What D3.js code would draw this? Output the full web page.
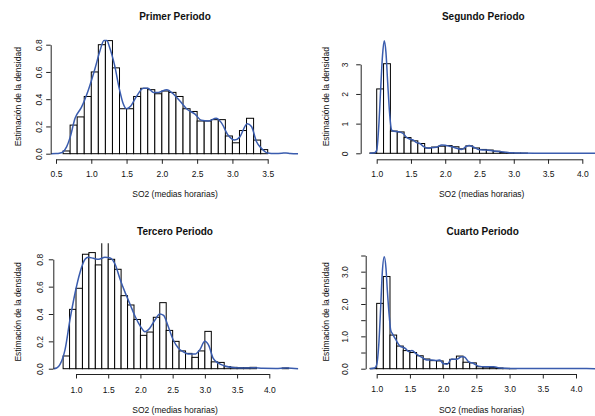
<!DOCTYPE html>
<html>
<head>
<meta charset="utf-8">
<script src="https://cdn.jsdelivr.net/npm/d3@7"></script>
<style>
  body { margin: 0; background: #fff; }
  text { font-family: "Liberation Sans", Arial, Helvetica, sans-serif; fill: #111; }
</style>
</head>
<body>
<svg id="chart" width="595" height="416"></svg>
<script>
// ---- data -------------------------------------------------------------
const binWidth = 0.1;
const titles = ["Primer Periodo", "Segundo Periodo", "Tercero Periodo", "Cuarto Periodo"];
const xLabel = "SO2 (medias horarias)";
const yLabel = "Estimación de la densidad";

// Primer periodo: histogram (density scale) and kernel density estimate
const p1BinStart = 0.6;
const p1Heights = [0.02, 0.21, 0.27, 0.42, 0.60, 0.80, 0.83, 0.63, 0.33, 0.33,
                   0.42, 0.48, 0.47, 0.44, 0.46, 0.45, 0.42, 0.33, 0.31, 0.24,
                   0.24, 0.25, 0.25, 0.13, 0.08, 0.17, 0.26, 0.10, 0.03];
const p1DensX = [0.43, 0.50, 0.55, 0.59, 0.65, 0.70, 0.77, 0.86, 0.96, 1.05, 1.12, 1.18, 1.22, 1.26,
                 1.33, 1.40, 1.45, 1.50, 1.56, 1.64, 1.74, 1.80, 1.88, 1.95, 2.07, 2.16, 2.25, 2.35,
                 2.47, 2.56, 2.66, 2.77, 2.84, 2.94, 3.03, 3.10, 3.21, 3.27, 3.34, 3.41, 3.50, 3.60,
                 3.70, 3.76, 3.82, 3.93];
const p1DensY = [0.000, 0.001, 0.004, 0.010, 0.050, 0.120, 0.260, 0.340, 0.470, 0.620, 0.750, 0.830, 0.830, 0.780,
                 0.650, 0.470, 0.370, 0.330, 0.350, 0.420, 0.480, 0.480, 0.450, 0.450, 0.470, 0.440, 0.390, 0.330,
                 0.290, 0.245, 0.240, 0.260, 0.230, 0.135, 0.100, 0.120, 0.220, 0.200, 0.090, 0.040, 0.005, 0.001,
                 0.003, 0.006, 0.002, 0.000];
const p1XTicks = [0.5, 1.0, 1.5, 2.0, 2.5, 3.0, 3.5];
const p1YTicks = [0, 0.2, 0.4, 0.6, 0.8];

// Segundo periodo
const p2BinStart = 0.9;
const p2Heights = [0.01, 2.17, 3.02, 0.75, 0.72, 0.53, 0.42, 0.33, 0.18, 0.21,
                   0.24, 0.26, 0.22, 0.15, 0.25, 0.18, 0.13, 0.11, 0.07, 0.03,
                   0.01, 0.005, 0.005, 0, 0, 0, 0, 0, 0, 0, 0, 0, 0, 0];
const p2DensX = [0.90, 0.97, 1.00, 1.03, 1.058, 1.085, 1.11, 1.135, 1.16, 1.19, 1.215, 1.24, 1.31, 1.36,
                 1.39, 1.43, 1.48, 1.53, 1.58, 1.63, 1.68, 1.75, 1.80, 1.87, 1.95, 2.00, 2.04, 2.10,
                 2.14, 2.24, 2.30, 2.35, 2.41, 2.50, 2.60, 2.70, 2.78, 2.85, 2.95, 3.05, 3.30, 3.60,
                 4.00, 4.30];
const p2DensY = [0.00, 0.02, 0.10, 0.90, 2.17, 3.30, 3.79, 3.40, 2.40, 1.30, 0.80, 0.75, 0.73, 0.70,
                 0.66, 0.55, 0.48, 0.45, 0.36, 0.33, 0.23, 0.17, 0.19, 0.20, 0.28, 0.27, 0.25, 0.22,
                 0.19, 0.13, 0.22, 0.26, 0.21, 0.12, 0.11, 0.08, 0.06, 0.04, 0.015, 0.01, 0.005, 0.003,
                 0.004, 0.002];
const p2XTicks = [1.0, 1.5, 2.0, 2.5, 3.0, 3.5, 4.0];
const p2YTicks = [0, 1, 2, 3];

// Tercero periodo
const p3BinStart = 0.8;
const p3Heights = [0.093, 0.434, 0.588, 0.837, 0.849, 0.759, 0.930, 0.800, 0.727, 0.534,
                   0.466, 0.360, 0.244, 0.268, 0.376, 0.483, 0.280, 0.200, 0.130, 0.112,
                   0.083, 0.130, 0.273, 0.050, 0.046, 0.015, 0.010, 0.007, 0.007, 0.010,
                   0, 0, 0, 0, 0.005];
const p3DensX = [0.65, 0.70, 0.75, 0.83, 0.907, 0.984, 1.06, 1.14, 1.19, 1.27, 1.35, 1.45, 1.53, 1.61,
                 1.68, 1.76, 1.84, 1.92, 2.00, 2.07, 2.15, 2.23, 2.30, 2.36, 2.43, 2.51, 2.59, 2.66,
                 2.74, 2.85, 2.92, 3.00, 3.06, 3.13, 3.21, 3.31, 3.47, 3.60, 3.75, 3.90, 4.10, 4.27,
                 4.45];
const p3DensY = [0.000, 0.005, 0.030, 0.140, 0.360, 0.550, 0.700, 0.800, 0.815, 0.807, 0.800, 0.815, 0.810, 0.760,
                 0.660, 0.560, 0.470, 0.380, 0.310, 0.270, 0.300, 0.360, 0.400, 0.390, 0.310, 0.210, 0.150, 0.125,
                 0.107, 0.107, 0.137, 0.200, 0.170, 0.075, 0.040, 0.020, 0.007, 0.005, 0.007, 0.003, 0.002, 0.006,
                 0.000];
const p3XTicks = [1.0, 1.5, 2.0, 2.5, 3.0, 3.5, 4.0];
const p3YTicks = [0, 0.2, 0.4, 0.6, 0.8];

// Cuarto periodo
const p4BinStart = 0.9;
const p4Heights = [0.01, 2.02, 2.85, 1.04, 0.70, 0.56, 0.50, 0.40, 0.30, 0.25,
                   0.24, 0.16, 0.29, 0.39, 0.20, 0.18, 0.06, 0.05, 0.04, 0.02,
                   0.01, 0.005, 0, 0, 0, 0, 0, 0, 0, 0, 0, 0, 0, 0];
const p4DensX = [0.90, 0.97, 1.00, 1.03, 1.06, 1.085, 1.114, 1.14, 1.16, 1.19, 1.21, 1.24, 1.29, 1.35,
                 1.43, 1.48, 1.53, 1.60, 1.68, 1.75, 1.83, 1.90, 1.95, 2.00, 2.06, 2.13, 2.20, 2.28,
                 2.32, 2.38, 2.46, 2.53, 2.63, 2.76, 2.86, 3.00, 3.30, 3.60, 4.00, 4.30];
const p4DensY = [0.00, 0.02, 0.12, 0.70, 1.90, 3.00, 3.46, 3.10, 2.43, 1.60, 1.20, 1.07, 0.89, 0.70,
                 0.63, 0.53, 0.56, 0.45, 0.35, 0.27, 0.27, 0.25, 0.27, 0.16, 0.14, 0.30, 0.29, 0.37,
                 0.36, 0.22, 0.16, 0.08, 0.06, 0.06, 0.02, 0.01, 0.008, 0.004, 0.004, 0.002];
const p4XTicks = [1.0, 1.5, 2.0, 2.5, 3.0, 3.5, 4.0];
const p4YTicks = [0, 0.5, 1.0, 1.5, 2.0, 2.5, 3.0, 3.5];
const p4YTickLabels = ["0.0", "", "1.0", "", "2.0", "", "3.0", ""];

// ---- layout -----------------------------------------------------------
const panels = [
  { title: titles[0], start: p1BinStart, heights: p1Heights, dx: p1DensX, dy: p1DensY,
    xTicks: p1XTicks, yTicks: p1YTicks, yFmt: d3.format(".1f"),
    xDom: [0.5, 3.5], xRange: [56, 267.7], yDom: [0, 0.8], yRange: [153.7, 44.7],
    box: { l: 50.7, r: 298.5, t: 30, b: 159.3 },
    titleX: 175, titleY: 20.3, xLabX: 175, xLabY: 196.5, yLabX: 21.3, yLabY: 96.7, yTickX: 42.3, xTickY: 177.2 },
  { title: titles[1], start: p2BinStart, heights: p2Heights, dx: p2DensX, dy: p2DensY,
    xTicks: p2XTicks, yTicks: p2YTicks, yFmt: d3.format("d"),
    xDom: [1, 4], xRange: [376.7, 582.3], yDom: [0, 3], yRange: [153.3, 64.3],
    box: { l: 360.7, r: 606, t: 30, b: 159.3 },
    titleX: 483.3, titleY: 20.3, xLabX: 481.7, xLabY: 196.5, yLabX: 328.7, yLabY: 96.7, yTickX: 348, xTickY: 177.2 },
  { title: titles[2], start: p3BinStart, heights: p3Heights, dx: p3DensX, dy: p3DensY,
    xTicks: p3XTicks, yTicks: p3YTicks, yFmt: d3.format(".1f"),
    xDom: [1, 4], xRange: [76, 269.3], yDom: [0, 0.8], yRange: [368.7, 259.3],
    box: { l: 53.3, r: 298.3, t: 243.3, b: 374 },
    titleX: 175, titleY: 235.3, xLabX: 175, xLabY: 413, yLabX: 21.3, yLabY: 312, yTickX: 43, xTickY: 393 },
  { title: titles[3], start: p4BinStart, heights: p4Heights, dx: p4DensX, dy: p4DensY,
    xTicks: p4XTicks, yTicks: p4YTicks, yFmt: (d, i) => p4YTickLabels[i],
    xDom: [1, 4], xRange: [376.7, 576], yDom: [0, 3.5], yRange: [368.7, 255.5],
    box: { l: 365.7, r: 606, t: 245, b: 374 },
    titleX: 482.7, titleY: 235.3, xLabX: 481.7, xLabY: 413, yLabX: 328.7, yLabY: 312, yTickX: 348, xTickY: 392 }
];

const svg = d3.select("#chart");
svg.append("rect").attr("width", 595).attr("height", 416).attr("fill", "#fff");

panels.forEach((p, idx) => {
  const g = svg.append("g");
  const x = d3.scaleLinear().domain(p.xDom).range(p.xRange);
  const y = d3.scaleLinear().domain(p.yDom).range(p.yRange);

  const clipId = "plot-clip-" + idx;
  svg.append("defs").append("clipPath").attr("id", clipId)
    .append("rect")
    .attr("x", p.box.l).attr("y", p.box.t)
    .attr("width", p.box.r - p.box.l).attr("height", p.box.b - p.box.t);

  const plot = g.append("g").attr("clip-path", `url(#${clipId})`);

  // histogram bars
  const bins = p.heights.map((h, i) => ({ x0: p.start + i * binWidth, x1: p.start + (i + 1) * binWidth, h }));
  plot.selectAll("rect.bar").data(bins).join("rect")
    .attr("class", "bar")
    .attr("x", d => x(d.x0))
    .attr("width", d => x(d.x1) - x(d.x0))
    .attr("y", d => y(d.h))
    .attr("height", d => y(0) - y(d.h))
    .attr("fill", "#fff")
    .attr("stroke", "#000")
    .attr("stroke-width", 1);

  // kernel density curve
  const pts = p.dx.map((v, i) => [v, p.dy[i]]);
  plot.append("path")
    .datum(pts)
    .attr("fill", "none")
    .attr("stroke", "#3a5cae")
    .attr("stroke-width", 1.5)
    .attr("d", d3.line().x(d => x(d[0])).y(d => y(d[1])).curve(d3.curveMonotoneX));

  // x axis along the bottom of the plot region
  const gx = g.append("g")
    .attr("transform", `translate(0,${p.box.b})`)
    .call(d3.axisBottom(x).tickValues(p.xTicks).tickFormat(d3.format(".1f")).tickSize(4.5).tickSizeOuter(0));
  gx.selectAll("text").attr("y", p.xTickY - p.box.b).attr("dy", 0)
    .style("font-size", "8.5px").attr("fill", "#111");

  // y axis along the left side, labels parallel to the axis
  const gy = g.append("g")
    .attr("transform", `translate(${p.box.l},0)`)
    .call(d3.axisLeft(y).tickValues(p.yTicks).tickFormat(p.yFmt).tickSize(4.5).tickSizeOuter(0));
  gy.selectAll("text")
    .attr("x", 0).attr("y", 0).attr("dy", 0)
    .attr("text-anchor", "middle")
    .attr("transform", `translate(${p.yTickX - p.box.l},0) rotate(-90)`)
    .style("font-size", "8.5px").attr("fill", "#111");

  [gx, gy].forEach(a => {
    a.selectAll("path.domain").attr("stroke", "#222").attr("stroke-width", 1);
    a.selectAll(".tick line").attr("stroke", "#222").attr("stroke-width", 1);
  });

  // titles and axis labels
  g.append("text").attr("x", p.titleX).attr("y", p.titleY)
    .attr("text-anchor", "middle").style("font-size", "10px").style("font-weight", "bold")
    .text(p.title);
  g.append("text").attr("x", p.xLabX).attr("y", p.xLabY)
    .attr("text-anchor", "middle").style("font-size", "8.5px")
    .text(xLabel);
  g.append("text")
    .attr("transform", `translate(${p.yLabX},${p.yLabY}) rotate(-90)`)
    .attr("text-anchor", "middle").style("font-size", "8.5px")
    .text(yLabel);
});
</script>
</body>
</html>
